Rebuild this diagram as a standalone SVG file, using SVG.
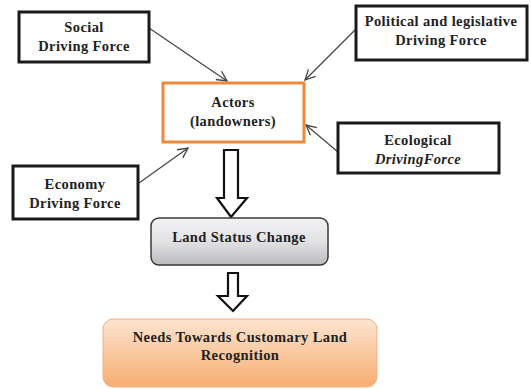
<svg xmlns="http://www.w3.org/2000/svg" width="531" height="389" viewBox="0 0 531 389">
<style>
.t{font-family:'Liberation Serif','DejaVu Serif',serif;font-weight:bold;font-size:14.5px;fill:#222;text-anchor:middle;letter-spacing:0.4px}
.bx{fill:#fff;stroke:#1a1a1a;stroke-width:3}
.ln{stroke:#444;stroke-width:1.2;fill:none;marker-end:url(#ah)}
.ha{fill:#fff;stroke:#111;stroke-width:2.2;stroke-linejoin:miter}
</style>
<defs>
<marker id="ah" viewBox="0 0 12 12" refX="11" refY="6" markerWidth="12" markerHeight="12" markerUnits="userSpaceOnUse" orient="auto">
<path d="M1,1 L11,6 L1,11" fill="none" stroke="#444" stroke-width="1.3"/>
</marker>
<linearGradient id="gg" x1="0" y1="0" x2="0" y2="1">
<stop offset="0" stop-color="#f3f3f5"/><stop offset="0.5" stop-color="#e2e2e5"/><stop offset="1" stop-color="#b9babe"/>
</linearGradient>
<linearGradient id="og" x1="0" y1="0" x2="0" y2="1">
<stop offset="0" stop-color="#fde4cf"/><stop offset="1" stop-color="#f7ae72"/>
</linearGradient>
</defs>
<rect width="531" height="389" fill="#fff"/>
<g id="connectors">
<line class="ln" x1="149" y1="28" x2="227" y2="81"/>
<line class="ln" x1="357" y1="28" x2="305" y2="80"/>
<line class="ln" x1="338" y1="152" x2="306" y2="125"/>
<line class="ln" x1="139" y1="183" x2="188" y2="148"/>
<path class="ha" d="M224,150 H238 V198 H247 L231,217 L217,198 H224 Z"/>
<path class="ha" d="M228,273 H238 V296 H247 L233,311 L218,296 H228 Z"/>
</g>
<g id="social">
<rect class="bx" x="19" y="12" width="130" height="50"/>
<text class="t" x="84" y="32">Social</text>
<text class="t" x="84" y="51">Driving Force</text>
</g>
<g id="political">
<rect class="bx" x="356" y="6" width="171" height="54"/>
<text class="t" x="441" y="26">Political and legislative</text>
<text class="t" x="441" y="45">Driving Force</text>
</g>
<g id="actors">
<rect x="163" y="83" width="141" height="59" fill="#fff" stroke="#ec8a3c" stroke-width="3"/>
<text class="t" x="233" y="107">Actors</text>
<text class="t" x="233" y="126">(landowners)</text>
</g>
<g id="ecological">
<rect class="bx" x="338" y="123" width="161" height="50"/>
<text class="t" x="418" y="145">Ecological</text>
<text class="t" x="418" y="164" font-style="italic">DrivingForce</text>
</g>
<g id="economy">
<rect class="bx" x="13" y="166" width="125" height="53"/>
<text class="t" x="75" y="189">Economy</text>
<text class="t" x="75" y="208">Driving Force</text>
</g>
<g id="land">
<rect x="151" y="218" width="177" height="47" rx="8" fill="url(#gg)" stroke="#3a3a3a" stroke-width="1.5"/>
<text class="t" x="239" y="242">Land Status Change</text>
</g>
<g id="needs">
<rect x="103" y="319" width="274" height="68" rx="10" fill="url(#og)" stroke="#f0b184" stroke-width="1"/>
<text class="t" x="240" y="342">Needs Towards Customary Land</text>
<text class="t" x="240" y="360">Recognition</text>
</g>
</svg>
